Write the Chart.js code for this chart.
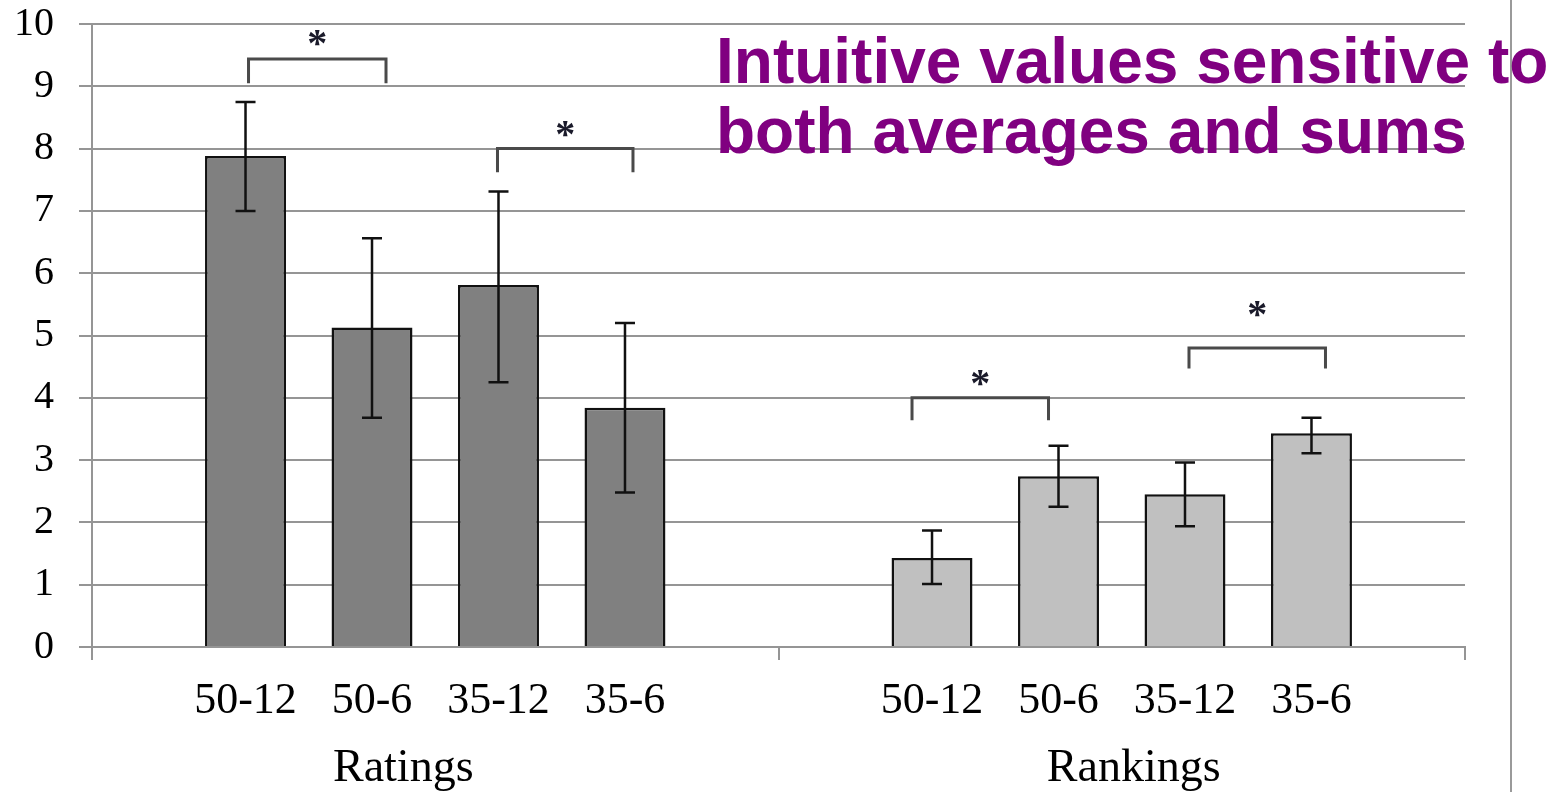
<!DOCTYPE html>
<html>
<head>
<meta charset="utf-8">
<script src="https://cdn.jsdelivr.net/npm/chart.js@4/dist/chart.umd.min.js"></script>
<style>
  html, body { margin: 0; padding: 0; background: #fff; }
  #wrap { position: relative; width: 1557px; height: 792px; }
  #title {
    position: absolute; left: 716px; top: 26px;
    font-family: "Liberation Sans", Arial, sans-serif; font-weight: bold;
    font-size: 64px; line-height: 70px; color: #800080; white-space: nowrap;
    pointer-events: none;
  }
</style>
</head>
<body>
<div id="wrap">
  <canvas id="c" width="1557" height="792"></canvas>
  <div id="title">Intuitive values sensitive to<br>both averages and sums</div>
</div>
<script>
// ---- data ----
const groups = ['Ratings', 'Rankings'];
const conditions = ['50-12', '50-6', '35-12', '35-6'];
const ratingsMean = [7.88, 5.13, 5.81, 3.84];
const ratingsLow  = [7.00, 3.68, 4.25, 2.48];
const ratingsHigh = [8.75, 6.56, 7.31, 5.20];
const rankingsMean = [1.43, 2.74, 2.45, 3.43];
const rankingsLow  = [1.01, 2.25, 1.94, 3.11];
const rankingsHigh = [1.87, 3.23, 2.96, 3.68];
// significance brackets: [group index, from condition, to condition]
const sigPairs = [[0, 0, 1], [0, 2, 3], [1, 0, 1], [1, 2, 3]];
const sigTop = [9.44, 8.00, 4.00, 4.80];
const sigLegEnd = [9.05, 7.62, 3.64, 4.47];
const sigStarAt = [9.80, 8.35, 4.35, 5.45];
const sigMark = '*';

// ---- style ----
const barColors = ['#808080', '#c0c0c0'];
const gridColor = '#959595';
const bracketDx = [[3, 14], [-1, 8], [-20, -10], [4, 14]];
const groupLabelDx = [-32, 12];

const means = [ratingsMean, rankingsMean];
const lows = [ratingsLow, rankingsLow];
const highs = [ratingsHigh, rankingsHigh];

const datasets = conditions.map((c, i) => ({
  label: c,
  data: groups.map((g, gi) => means[gi][i]),
  backgroundColor: barColors,
  borderColor: '#111',
  borderWidth: 2.5,
  categoryPercentage: 0.737,
  barPercentage: 0.64
}));

const extras = {
  id: 'extras',
  afterDatasetsDraw(chart) {
    const ctx = chart.ctx;
    const y = chart.scales.y;
    const x = chart.scales.x;
    ctx.save();
    // error bars
    ctx.strokeStyle = '#111';
    ctx.lineWidth = 2.5;
    conditions.forEach((c, i) => {
      const meta = chart.getDatasetMeta(i);
      groups.forEach((g, gi) => {
        const el = meta.data[gi];
        const yl = y.getPixelForValue(lows[gi][i]);
        const yh = y.getPixelForValue(highs[gi][i]);
        ctx.beginPath();
        ctx.moveTo(el.x, yl); ctx.lineTo(el.x, yh);
        ctx.moveTo(el.x - 10, yl); ctx.lineTo(el.x + 10, yl);
        ctx.moveTo(el.x - 10, yh); ctx.lineTo(el.x + 10, yh);
        ctx.stroke();
      });
    });
    // brackets and stars
    sigPairs.forEach((p, k) => {
      const [gi, a, b] = p;
      const xa = chart.getDatasetMeta(a).data[gi].x + bracketDx[k][0];
      const xb = chart.getDatasetMeta(b).data[gi].x + bracketDx[k][1];
      const yt = y.getPixelForValue(sigTop[k]);
      const yb = y.getPixelForValue(sigLegEnd[k]);
      ctx.strokeStyle = '#4a4a4a';
      ctx.lineWidth = 3;
      ctx.beginPath();
      ctx.moveTo(xa, yb); ctx.lineTo(xa, yt); ctx.lineTo(xb, yt); ctx.lineTo(xb, yb);
      ctx.stroke();
      ctx.fillStyle = '#1a1a2a';
      ctx.font = 'bold 40px "Liberation Serif", "Times New Roman", serif';
      ctx.textAlign = 'center';
      ctx.textBaseline = 'alphabetic';
      ctx.fillText(sigMark, (xa + xb) / 2, y.getPixelForValue(sigStarAt[k]) + 20);
    });
    // category labels
    ctx.fillStyle = '#000';
    ctx.textAlign = 'center';
    ctx.textBaseline = 'alphabetic';
    ctx.font = '44px "Liberation Serif", "Times New Roman", serif';
    conditions.forEach((c, i) => {
      const meta = chart.getDatasetMeta(i);
      groups.forEach((g, gi) => {
        ctx.fillText(c, meta.data[gi].x, 713);
      });
    });
    ctx.font = '46px "Liberation Serif", "Times New Roman", serif';
    groups.forEach((g, gi) => {
      ctx.fillText(g, x.getPixelForValue(gi) + groupLabelDx[gi], 781);
    });
    // slide frame line
    ctx.strokeStyle = '#9a9a9a';
    ctx.lineWidth = 2;
    ctx.beginPath();
    ctx.moveTo(1511, 0); ctx.lineTo(1511, 792);
    ctx.stroke();
    ctx.restore();
  }
};

new Chart(document.getElementById('c'), {
  type: 'bar',
  data: { labels: groups, datasets },
  options: {
    responsive: false,
    animation: false,
    events: [],
    layout: { padding: { top: 0, right: 92, left: 0, bottom: 0 } },
    plugins: { legend: { display: false }, tooltip: { enabled: false } },
    scales: {
      x: {
        grid: { display: true, drawOnChartArea: false, drawTicks: true, tickLength: 13, color: gridColor, lineWidth: 2, offset: true },
        border: { display: true, color: gridColor, width: 2 },
        ticks: { display: false },
        afterFit(s) { s.height = 145; }
      },
      y: {
        min: 0, max: 10,
        ticks: { stepSize: 1, color: '#000', padding: 25,
          font: { family: '"Liberation Serif", "Times New Roman", serif', size: 40 } },
        grid: { color: gridColor, lineWidth: 2, tickLength: 13 },
        border: { display: true, color: gridColor, width: 2 },
        afterFit(s) { s.width = 92; s.paddingTop = 24; s.paddingBottom = 0; }
      }
    }
  },
  plugins: [extras]
});
</script>
</body>
</html>
